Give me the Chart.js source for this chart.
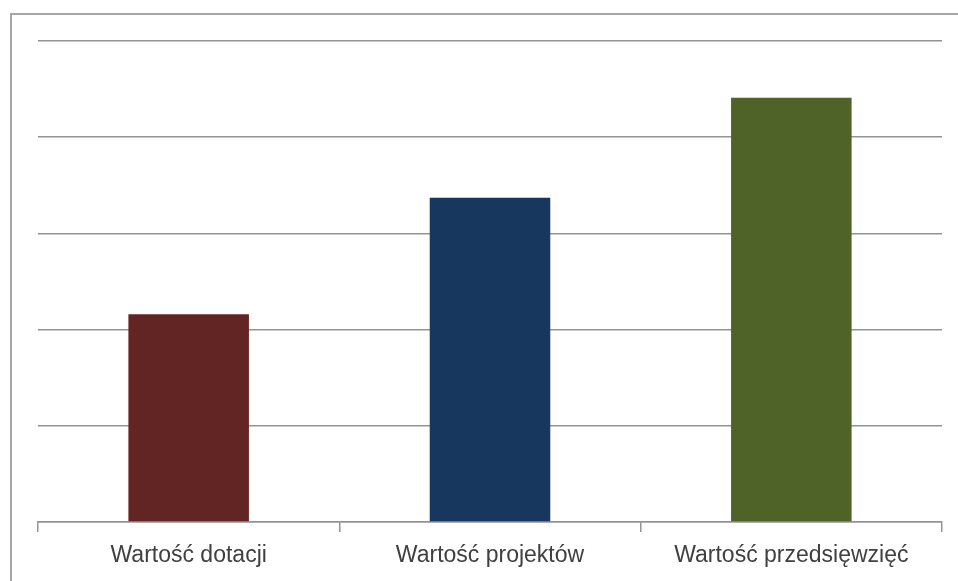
<!DOCTYPE html>
<html lang="pl">
<head>
    <meta charset="UTF-8">
    <title>Wartość dotacji, projektów i przedsięwzięć</title>
    <style>
        html, body {
            margin: 0;
            padding: 0;
            width: 958px;
            height: 581px;
            overflow: hidden;
            background: #ffffff;
        }
        #frame {
            position: absolute;
            left: 10px;
            top: 13px;
            width: 2000px;
            height: 2000px;
            border-left: 2px solid #a6a6a6;
            border-top: 2px solid #a6a6a6;
        }
        #chart {
            position: absolute;
            left: 0;
            top: 0;
        }
    </style>
</head>
<body>
    <div id="frame"></div>
    <canvas id="chart" width="958" height="581"></canvas>

    <script src="https://cdn.jsdelivr.net/npm/chart.js"></script>
    <script>
        // dane (skala bez opisu, 0-5)
        const categories = ['Wartość dotacji', 'Wartość projektów', 'Wartość przedsięwzięć'];
        const values = [2.16, 3.37, 4.41];
        const barColors = ['#632523', '#17375e', '#4f6228'];

        const gridColor = '#939393';

        new Chart(document.getElementById('chart'), {
            type: 'bar',
            data: {
                labels: categories,
                datasets: [{
                    data: values,
                    backgroundColor: barColors,
                    borderWidth: 0,
                    categoryPercentage: 1.0,
                    barPercentage: 0.4
                }]
            },
            options: {
                responsive: false,
                animation: false,
                devicePixelRatio: 1,
                layout: {
                    padding: { left: 38, right: 16, top: 41, bottom: 2 }
                },
                plugins: {
                    legend: { display: false },
                    tooltip: { enabled: false }
                },
                scales: {
                    x: {
                        grid: {
                            offset: true,
                            drawOnChartArea: false,
                            drawTicks: true,
                            tickLength: 10,
                            color: gridColor,
                            lineWidth: 1.5
                        },
                        border: { display: true, color: gridColor, width: 1.5 },
                        ticks: {
                            padding: 12,
                            maxRotation: 0,
                            autoSkip: false,
                            color: '#404040',
                            font: { family: 'Liberation Sans', size: 23, lineHeight: 1.0 }
                        }
                    },
                    y: {
                        min: 0,
                        max: 5,
                        ticks: { display: false, stepSize: 1 },
                        border: { display: false },
                        grid: {
                            drawTicks: false,
                            color: gridColor,
                            lineWidth: 1.5
                        }
                    }
                }
            }
        });
    </script>
</body>
</html>
